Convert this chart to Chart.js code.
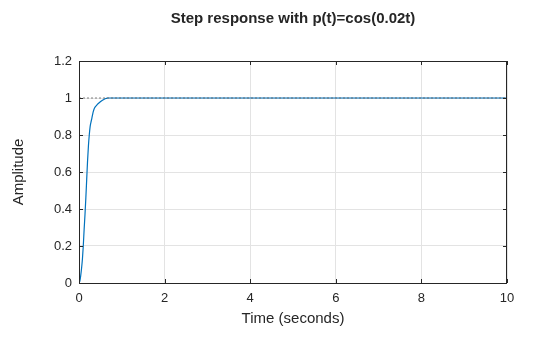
<!DOCTYPE html>
<html>
<head>
<meta charset="utf-8">
<script src="https://cdn.jsdelivr.net/npm/chart.js@4.4.1/dist/chart.umd.min.js"></script>
<style>
  html, body { margin: 0; padding: 0; background: #ffffff; }
  #wrap { width: 560px; height: 337px; position: relative; }
</style>
</head>
<body>
<div id="wrap"><canvas id="c" width="560" height="337"></canvas></div>
<script>
// ---- data ----
const chartTitle = 'Step response with p(t)=cos(0.02t)';
const xAxisLabel = 'Time (seconds)';
const yAxisLabel = 'Amplitude';

const timeSec   = [0, 0.02, 0.04, 0.06, 0.08, 0.10, 0.12, 0.14, 0.16, 0.18, 0.20, 0.22, 0.24, 0.26, 0.28, 0.30, 0.33, 0.36, 0.41, 0.45, 0.49, 0.54, 0.59, 0.63, 0.67, 0.75, 1, 2, 3, 4, 5, 6, 7, 8, 9, 10];
const amplitude = [0, 0.01, 0.04, 0.08, 0.13, 0.20, 0.29, 0.37, 0.46, 0.56, 0.66, 0.74, 0.80, 0.845, 0.87, 0.89, 0.924, 0.945, 0.96, 0.97, 0.978, 0.987, 0.993, 0.997, 1, 1, 1, 1, 1, 1, 1, 1, 1, 1, 1, 1];

const steadyTime  = [0, 10];
const steadyValue = [1, 1];

const xTickValues = [0, 2, 4, 6, 8, 10];
const xTickLabels = ['0', '2', '4', '6', '8', '10'];
const yTickValues = [0, 0.2, 0.4, 0.6, 0.8, 1, 1.2];
const yTickLabels = ['0', '0.2', '0.4', '0.6', '0.8', '1', '1.2'];

// ---- chart ----
const FONT = "'Liberation Sans', Arial, Helvetica, sans-serif";
const AXIS = '#262626';

function labelFor(values, labels, v) {
  for (let i = 0; i < values.length; i++) {
    if (Math.abs(values[i] - v) < 1e-9) return labels[i];
  }
  return '';
}

const frame = {
  id: 'frame',
  afterDraw(chart) {
    const ctx = chart.ctx;
    const a = chart.chartArea;
    const xs = chart.scales.x, ys = chart.scales.y;
    ctx.save();
    ctx.strokeStyle = AXIS;
    ctx.lineWidth = 1;
    ctx.beginPath();
    ctx.rect(Math.round(a.left) + 0.5, Math.round(a.top) + 0.5,
             Math.round(a.right - a.left) - 1, Math.round(a.bottom - a.top));
    ctx.stroke();
    const L = 4;
    ctx.beginPath();
    xTickValues.forEach(v => {
      const px = Math.round(xs.getPixelForValue(v)) + 0.5;
      ctx.moveTo(px, a.bottom); ctx.lineTo(px, a.bottom - L);
      ctx.moveTo(px, a.top); ctx.lineTo(px, a.top + L);
    });
    yTickValues.forEach(v => {
      const py = Math.round(ys.getPixelForValue(v)) + 0.5;
      ctx.moveTo(a.left, py); ctx.lineTo(a.left + L, py);
      ctx.moveTo(a.right, py); ctx.lineTo(a.right - L, py);
    });
    ctx.stroke();
    // title
    ctx.fillStyle = AXIS;
    ctx.font = 'bold 15px ' + FONT;
    ctx.textAlign = 'center';
    ctx.textBaseline = 'middle';
    ctx.fillText(chartTitle, (a.left + a.right) / 2, 19);
    ctx.restore();
  }
};

new Chart(document.getElementById('c'), {
  type: 'line',
  data: {
    datasets: [
      {
        label: 'steady state',
        data: steadyTime.map((t, i) => ({ x: t, y: steadyValue[i] })),
        borderColor: 'rgba(90,90,90,0.75)',
        borderWidth: 1,
        borderDash: [2, 2],
        pointRadius: 0,
        fill: false,
        tension: 0,
        order: 0
      },
      {
        label: 'step',
        data: timeSec.map((t, i) => ({ x: t, y: amplitude[i] })),
        borderColor: '#0072BD',
        borderWidth: 1.2,
        pointRadius: 0,
        fill: false,
        cubicInterpolationMode: 'monotone',
        order: 1
      }
    ]
  },
  options: {
    responsive: false,
    animation: false,
    devicePixelRatio: 1,
    layout: { padding: { left: 0, right: 53, top: 61, bottom: 0 } },
    plugins: {
      legend: { display: false },
      title: { display: false },
      tooltip: { enabled: false }
    },
    scales: {
      x: {
        type: 'linear',
        min: 0, max: 10,
        afterFit(s) { s.height = 54; },
        afterBuildTicks(s) { s.ticks = xTickValues.map(v => ({ value: v })); },
        grid: { color: '#e3e3e3', drawTicks: false, lineWidth: 1 },
        border: { display: false },
        ticks: {
          padding: 8,
          color: AXIS,
          font: { family: FONT, size: 13 },
          maxRotation: 0,
          callback: v => labelFor(xTickValues, xTickLabels, v)
        },
        title: {
          display: true,
          text: xAxisLabel,
          color: AXIS,
          font: { family: FONT, size: 15 },
          padding: { top: 0, bottom: 9.5 }
        }
      },
      y: {
        type: 'linear',
        min: 0, max: 1.2,
        afterFit(s) { s.width = 79; },
        afterBuildTicks(s) { s.ticks = yTickValues.map(v => ({ value: v })); },
        grid: { color: '#e3e3e3', drawTicks: false, lineWidth: 1 },
        border: { display: false },
        ticks: {
          padding: 7,
          color: AXIS,
          font: { family: FONT, size: 13 },
          callback: v => labelFor(yTickValues, yTickLabels, v)
        },
        title: {
          display: true,
          text: yAxisLabel,
          color: AXIS,
          font: { family: FONT, size: 15 },
          padding: { top: 9.5, bottom: 0 }
        }
      }
    }
  },
  plugins: [frame]
});
</script>
</body>
</html>
